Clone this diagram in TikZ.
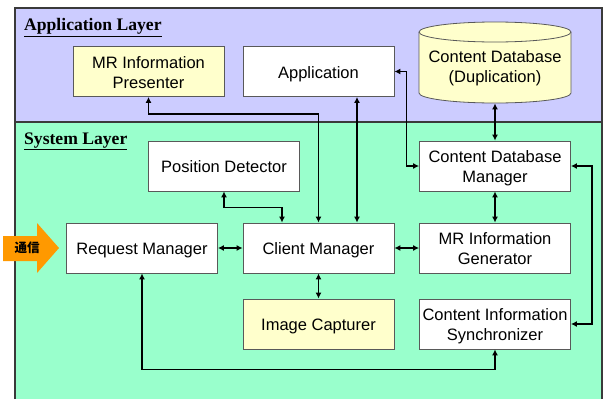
\documentclass[tikz,border=0pt]{standalone}
\usepackage{fontspec}
\setmainfont{Liberation Serif}
\newfontfamily\sansf{Liberation Sans}
\newfontfamily\cjk{Noto Sans CJK JP}
\usetikzlibrary{arrows.meta}
\definecolor{applayer}{HTML}{CCCCFF}
\definecolor{syslayer}{HTML}{99FFCC}
\definecolor{paleyellow}{HTML}{FFFFCC}
\definecolor{signal}{HTML}{FF9900}
\definecolor{frame}{HTML}{3A3A3A}
\begin{document}
\begin{tikzpicture}[x=1pt,y=-1pt,
  box/.style={draw=black!65, line width=0.8pt, fill=white, minimum width=151pt,
    minimum height=50pt, inner sep=1pt, align=center,
    text height=13.6pt, text depth=0pt,
    font=\sansf\fontsize{16.5}{20}\selectfont},
  twoline/.style={text height=33.6pt, text depth=0pt},
  hibox/.style={box, fill=paleyellow},
  link/.style={line width=1.5pt, {Latex[length=6pt,width=6pt]}-{Latex[length=6pt,width=6pt]}},
  layertitle/.style={anchor=west, inner sep=0pt, font=\bfseries\fontsize{17.6}{20}\selectfont}]
\useasboundingbox (0,0) rectangle (604,399);

% layer backgrounds
\fill[applayer] (15,8) rectangle (602,122);
\fill[syslayer] (15,122) rectangle (602,399);
\draw[frame, line width=1.3pt] (15,399) -- (15,8) -- (602,8) -- (602,399);
\draw[frame, line width=1.3pt] (15,122) -- (602,122);

\node[layertitle] (applbl) at (24,27.5) {\underline{Application Layer}};
\node[layertitle] (syslbl) at (24,141.5) {\underline{System Layer}};

% application layer
\node[hibox, twoline] (pres) at (148.5,71.5) {MR Information\\Presenter};
\node[box] (app) at (318.5,71.5) {Application};

% duplicated content database (cylinder)
\filldraw[fill=paleyellow, draw=black!65, line width=0.8pt]
  (419,32) -- (419,93) arc[start angle=180, end angle=360, x radius=76pt, y radius=10pt]
  -- (571,32) arc[start angle=0, end angle=180, x radius=76pt, y radius=10pt] -- cycle;
\draw[black!65, line width=0.8pt]
  (419,32) arc[start angle=180, end angle=360, x radius=76pt, y radius=10pt];
\node[box, twoline, draw=none, fill=none, minimum height=72pt, text height=31.8pt] (cdb) at (495,67) {Content Database\\(Duplication)};

% system layer
\node[box] (pos) at (224,166) {Position Detector};
\node[box, twoline] (cdbm) at (495,166) {Content Database\\Manager};
\node[box] (req) at (142,248) {Request Manager};
\node[box] (cli) at (318.5,248) {Client Manager};
\node[box, twoline] (gen) at (495,248) {MR Information\\Generator};
\node[hibox] (img) at (318.5,324) {Image Capturer};
\node[box, twoline] (sync) at (495,324) {Content Information\\Synchronizer};

% incoming communication arrow
\fill[signal] (3,236) -- (37,236) -- (37,223) -- (59,248) -- (37,273) -- (37,261) -- (3,261) -- cycle;
\node[font=\cjk\bfseries\fontsize{12.5}{14}\selectfont, inner sep=0pt] (comm) at (27,248) {通信};

% connectors
\draw[link] (pres.south) -- ++(0,17) -| (cli.north);
\draw[link] ([xshift=38.5pt]app.south) -- ([xshift=38.5pt]cli.north);
\draw[link] (pos.south) -- ++(0,16) -| ([xshift=-36.5pt]cli.north);
\draw[link] (app.east) -- ++(12,0) |- (cdbm.west);
\draw[link] (cdb.south) -- (cdbm.north);
\draw[link] (cdbm.south) -- (gen.north);
\draw[link] (cdbm.east) -- ++(21,0) |- (sync.east);
\draw[link] (req.east) -- (cli.west);
\draw[link] (cli.east) -- (gen.west);
\draw[link] (cli.south) -- (img.north);
\draw[link] (req.south) -- ++(0,96) -| (sync.south);
\end{tikzpicture}
\end{document}
